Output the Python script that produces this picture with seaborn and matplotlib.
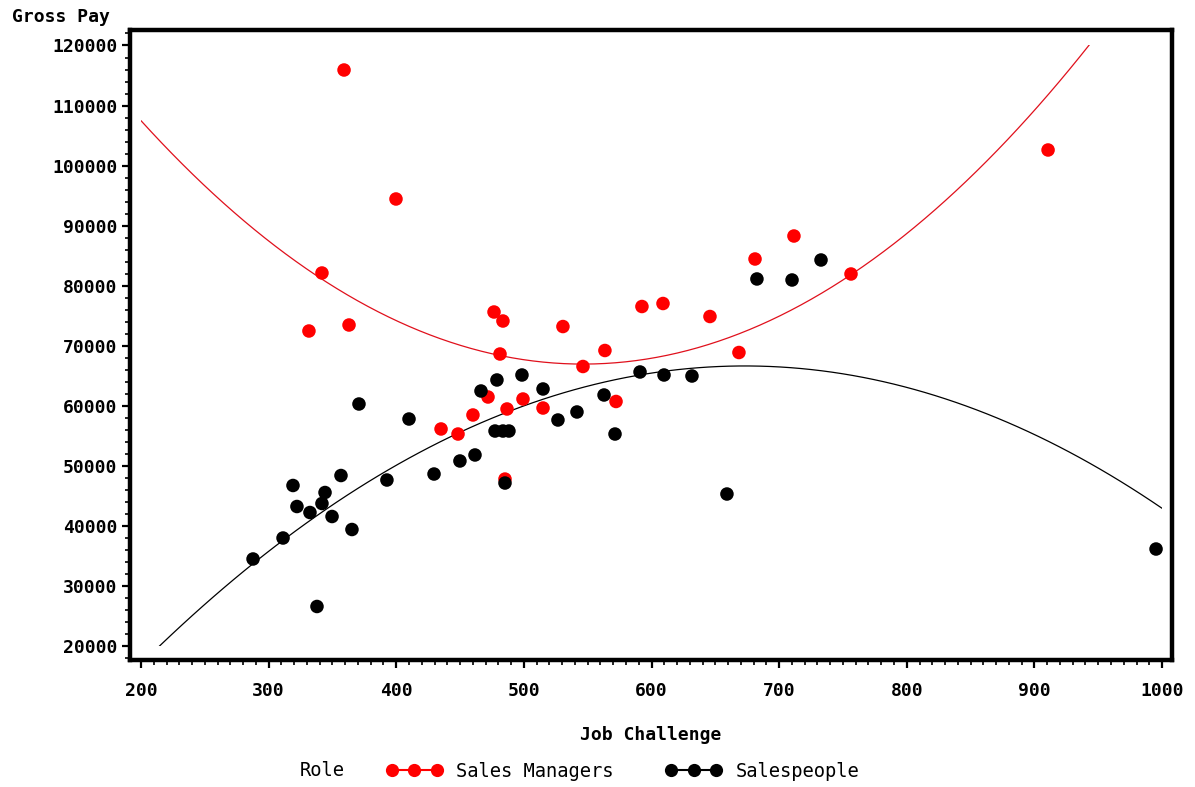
import numpy as np
import pandas as pd
import matplotlib
matplotlib.use("Agg")
import matplotlib.pyplot as plt
from matplotlib.lines import Line2D
from matplotlib.patches import Rectangle
from matplotlib.ticker import MultipleLocator
import seaborn as sns

# ---- data ----
mgr_challenge = [359.1, 399.8, 341.8, 331.6, 363.0, 435.1, 448.4, 460.1, 471.9, 476.6,
                 483.6, 481.3, 486.8, 499.3, 485.2, 515.0, 530.6, 546.3, 563.5, 572.2,
                 592.5, 609.0, 645.8, 668.5, 681.1, 711.6, 756.3, 910.7]
mgr_pay = [115920, 94440, 82115, 72456, 73455, 56140, 55300, 58470, 61465, 75620,
           74120, 68625, 59470, 61130, 47800, 59630, 73200, 66545, 69210, 60720,
           76535, 77035, 74870, 68875, 84446, 88275, 81950, 102600]

sp_challenge = [287.8, 311.3, 319.1, 322.2, 332.4, 344.2, 341.8, 349.7, 356.7, 365.3,
                337.9, 370.8, 392.7, 410.0, 429.6, 449.9, 461.7, 466.4, 478.9, 477.4,
                483.6, 488.3, 485.2, 498.5, 515.0, 526.7, 541.6, 562.8, 571.4, 591.0,
                609.8, 631.7, 659.1, 682.6, 710.1, 732.8, 995.3]
sp_pay = [34490, 37985, 46730, 43230, 42230, 45560, 43730, 41565, 48390, 39400,
          26580, 60300, 47640, 57800, 48640, 50810, 51810, 62465, 64300, 55800,
          55800, 55800, 47140, 65130, 62800, 57635, 58970, 61800, 55300, 65630,
          65130, 64960, 45310, 81120, 80950, 84280, 36150]

roles = ["Sales Managers", "Salespeople"]
role_colors = {"Sales Managers": "#ff0000", "Salespeople": "#000000"}
line_colors = {"Sales Managers": "#e0101c", "Salespeople": "#000000"}
x_ticks = [200, 300, 400, 500, 600, 700, 800, 900, 1000]
y_ticks = [20000, 30000, 40000, 50000, 60000, 70000, 80000, 90000, 100000, 110000, 120000]

df = pd.DataFrame({
    "Job Challenge": mgr_challenge + sp_challenge,
    "Gross Pay": mgr_pay + sp_pay,
    "Role": [roles[0]] * len(mgr_challenge) + [roles[1]] * len(sp_challenge),
})

# ---- figure ----
sns.set_style("white")
plt.rcParams["text.color"] = "black"
plt.rcParams["xtick.color"] = "black"
plt.rcParams["ytick.color"] = "black"
W, H = 1195, 787
fig = plt.figure(figsize=(W / 100, H / 100), dpi=100)
ax = fig.add_axes([130 / W, 1 - 660 / H, (1172 - 130) / W, (660 - 30) / H])

mono = ["DejaVu Sans Mono", "DejaVu Sans"]

# regression curves (quadratic fits) spanning the x range 200..1000
ax.set_xlim(x_ticks[0], x_ticks[-1])
for role in roles:
    sub = df[df["Role"] == role]
    sns.regplot(data=sub, x="Job Challenge", y="Gross Pay", order=2, ci=None,
                scatter=False, truncate=False, ax=ax,
                line_kws=dict(color=line_colors[role], lw=0.9))
clip = Rectangle((x_ticks[0], y_ticks[0]), x_ticks[-1] - x_ticks[0],
                 y_ticks[-1] - y_ticks[0], transform=ax.transData)
for ln in ax.lines:
    ln.set_clip_path(clip)

sns.scatterplot(data=df, x="Job Challenge", y="Gross Pay", hue="Role",
                palette=role_colors, s=95, edgecolor="none", linewidth=0,
                legend=False, ax=ax, zorder=3)

ax.set_xlim(191.4, 1007.8)
ax.set_ylim(17669, 122581)
ax.set_xticks(x_ticks)
ax.set_yticks(y_ticks)
ax.xaxis.set_minor_locator(MultipleLocator(10))
ax.yaxis.set_minor_locator(MultipleLocator(2000))
ax.set_xticklabels([str(v) for v in x_ticks])
ax.set_yticklabels([str(v) for v in y_ticks])
ax.set_xlabel("")
ax.set_ylabel("")

for sp in ax.spines.values():
    sp.set_linewidth(3.2)
    sp.set_color("black")

ax.tick_params(axis="both", which="major", direction="out", length=6, width=1.6,
               color="black", labelcolor="black",
               bottom=True, left=True, top=False, right=False)
ax.tick_params(axis="both", which="minor", direction="out", length=3.5, width=1.2,
               color="black", bottom=True, left=True, top=False, right=False)
ax.tick_params(axis="x", which="major", pad=10)
ax.tick_params(axis="y", which="major", pad=3)
for lab in ax.get_xticklabels() + ax.get_yticklabels():
    lab.set_family(mono)
    lab.set_fontweight("bold")
    lab.set_fontsize(13)
    lab.set_color("black")

# axis titles
fig.text(12 / W, 1 - 17 / H, "Gross Pay", family=mono, fontweight="bold",
         fontsize=13, ha="left", va="center", color="black")
fig.text(651 / W, 1 - 735 / H, "Job Challenge", family=mono, fontweight="bold",
         fontsize=13, ha="center", va="center", color="black")

# legend
fig.text(300 / W, 1 - 771 / H, "Role", family=mono, fontsize=13.5,
         ha="left", va="center", color="black")
handles = [Line2D([], [], color=role_colors[r], marker="o", markersize=9.5,
                  markeredgewidth=0, lw=1.5) for r in roles]
leg = fig.legend(handles, roles, loc="center left",
                 bbox_to_anchor=(386 / W, 1 - 771.5 / H), ncol=2, frameon=False,
                 numpoints=3, handlelength=3.0, handletextpad=0.75,
                 columnspacing=2.75, borderpad=0, borderaxespad=0,
                 prop=dict(family=mono, size=13.5))
for t in leg.get_texts():
    t.set_color("black")

fig.savefig("out.png", dpi=100)
